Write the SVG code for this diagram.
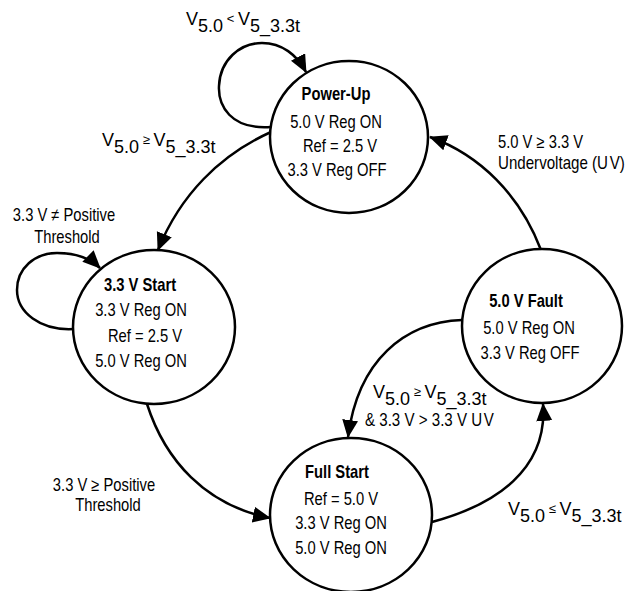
<svg xmlns="http://www.w3.org/2000/svg" width="628" height="591" viewBox="0 0 628 591">
<defs>
<marker id="ah" markerUnits="userSpaceOnUse" markerWidth="20" markerHeight="18" refX="17" refY="8" orient="auto">
<path d="M0,0 L18,8 L0,16 z" fill="#000"/>
</marker>
<style>
.st{fill:#fff;stroke:#000;stroke-width:2.5}
.cn{fill:none;stroke:#000;stroke-width:2.5;marker-end:url(#ah)}
text{font-family:"Liberation Sans",Arial,sans-serif;font-size:18px;fill:#000}
.c{text-anchor:middle}
.b{font-weight:bold}
.op{font-size:13px}
.uv{letter-spacing:2px}
</style>
</defs>
<rect width="628" height="591" fill="#fff"/>
<g id="connectors">
<path class="cn" d="M271,127 C230,130 218,105 219,86 C220,60 240,43 262,43 C282,43 297,55 306,72"/>
<path class="cn" d="M271,132 C220,155 180,195 158,250"/>
<path class="cn" d="M74,329 C40,331 17,312 17,290 C17,268 35,253 57,253 C75,253 90,258 100,268"/>
<path class="cn" d="M147,404 C165,460 205,505 270,518"/>
<path class="cn" d="M432,522 C495,505 548,470 543,404"/>
<path class="cn" d="M462,320 C405,322 358,360 348,437"/>
<path class="cn" d="M541,250 C520,195 480,155 430,137"/>
</g>
<g id="powerup">
<ellipse class="st" cx="349" cy="137" rx="79" ry="76"/>
<text class="c b" transform="translate(336,100) scale(0.82,1)">Power-Up</text>
<text class="c" transform="translate(336,128) scale(0.82,1)">5.0 V Reg ON</text>
<text class="c" transform="translate(340,152) scale(0.82,1)">Ref = 2.5 V</text>
<text class="c" transform="translate(337,176) scale(0.82,1)">3.3 V Reg OFF</text>
</g>
<g id="start33">
<ellipse class="st" cx="154" cy="327" rx="81" ry="77"/>
<text class="c b" transform="translate(140,291) scale(0.82,1)">3.3 V Start</text>
<text class="c" transform="translate(141,316) scale(0.82,1)">3.3 V Reg ON</text>
<text class="c" transform="translate(145,342) scale(0.82,1)">Ref = 2.5 V</text>
<text class="c" transform="translate(141,367) scale(0.82,1)">5.0 V Reg ON</text>
</g>
<g id="fault50">
<ellipse class="st" cx="542" cy="326" rx="80" ry="77"/>
<text class="c b" transform="translate(526,307) scale(0.82,1)">5.0 V Fault</text>
<text class="c" transform="translate(529,334) scale(0.82,1)">5.0 V Reg ON</text>
<text class="c" transform="translate(530,359) scale(0.82,1)">3.3 V Reg OFF</text>
</g>
<g id="fullstart">
<ellipse class="st" cx="351" cy="515" rx="81" ry="77"/>
<text class="c b" transform="translate(337,478) scale(0.82,1)">Full Start</text>
<text class="c" transform="translate(341,505) scale(0.82,1)">Ref = 5.0 V</text>
<text class="c" transform="translate(341,529) scale(0.82,1)">3.3 V Reg ON</text>
<text class="c" transform="translate(341,554) scale(0.82,1)">5.0 V Reg ON</text>
</g>
<g id="labels">
<text x="186" y="25">V<tspan dy="7">5.0</tspan><tspan class="op" dy="-9"> &lt; </tspan><tspan dy="2">V</tspan><tspan dy="7">5_3.3t</tspan></text>
<text x="102" y="146">V<tspan dy="7">5.0</tspan><tspan class="op" dy="-9"> ≥ </tspan><tspan dy="2">V</tspan><tspan dy="7">5_3.3t</tspan></text>
<text class="c" transform="translate(64,221) scale(0.82,1)">3.3 V ≠ Positive</text>
<text class="c" transform="translate(67,243) scale(0.82,1)">Threshold</text>
<text transform="translate(498,148) scale(0.82,1)">5.0 V ≥ 3.3 V</text>
<text transform="translate(498,169) scale(0.84,1)">Undervoltage (<tspan class="uv">U</tspan>V)</text>
<text class="c" transform="translate(104,491) scale(0.82,1)">3.3 V ≥ Positive</text>
<text class="c" transform="translate(108,511) scale(0.82,1)">Threshold</text>
<text x="373" y="398">V<tspan dy="7">5.0</tspan><tspan class="op" dy="-9"> ≥ </tspan><tspan dy="2">V</tspan><tspan dy="7">5_3.3t</tspan></text>
<text transform="translate(365,426) scale(0.84,1)">&amp; 3.3 V &gt; 3.3 V <tspan class="uv">U</tspan>V</text>
<text x="508" y="515">V<tspan dy="7">5.0</tspan><tspan class="op" dy="-9"> ≤ </tspan><tspan dy="2">V</tspan><tspan dy="7">5_3.3t</tspan></text>
</g>
</svg>
